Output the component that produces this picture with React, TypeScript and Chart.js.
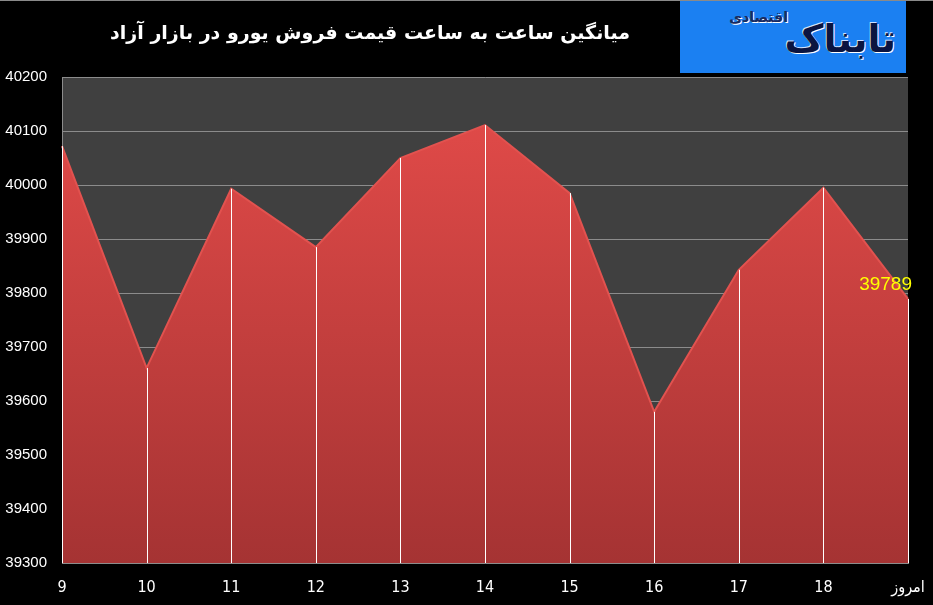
import React from "react"
import { useEffect, useRef } from "react"
import { Chart, registerables } from "chart.js"
import type { Plugin } from "chart.js"

Chart.register(...registerables);

const hours = ["9", "10", "11", "12", "13", "14", "15", "16", "17", "18", "امروز"];
const euroPrice = [40072, 39661, 39993, 39885, 40050, 40111, 39985, 39580, 39843, 39995, 39789];
const yMin = 39300;
const yMax = 40200;
const yStep = 100;

const titleText = "میانگین ساعت به ساعت قیمت فروش یورو در بازار آزاد";

// dark plot background + black canvas
const backgroundPlugin: Plugin = {
  id: "bg",
  beforeDraw(chart) {
    const { ctx, chartArea, width, height } = chart;
    ctx.save();
    ctx.fillStyle = "#000000";
    ctx.fillRect(0, 0, width, height);
    ctx.fillStyle = "#404040";
    ctx.fillRect(chartArea.left, chartArea.top, chartArea.right - chartArea.left, chartArea.bottom - chartArea.top);
    ctx.restore();
  }
};

// white drop lines from each point to the axis, and the last value label
const dropLinePlugin: Plugin = {
  id: "drops",
  afterDatasetsDraw(chart) {
    const { ctx, chartArea } = chart;
    const meta = chart.getDatasetMeta(0);
    ctx.save();
    ctx.strokeStyle = "#ffffff";
    ctx.lineWidth = 1;
    meta.data.forEach((pt: any) => {
      const x = Math.round(pt.x) + 0.5;
      ctx.beginPath();
      ctx.moveTo(x, pt.y);
      ctx.lineTo(x, chartArea.bottom);
      ctx.stroke();
    });
    const last: any = meta.data[meta.data.length - 1];
    ctx.fillStyle = "#ffff00";
    ctx.font = "19px 'Liberation Sans', Arial, sans-serif";
    ctx.textAlign = "right";
    ctx.textBaseline = "alphabetic";
    ctx.fillText(String(euroPrice[euroPrice.length - 1]), last.x + 4, last.y - 9);
    ctx.restore();
  }
};

function EuroChart() {
  const canvasRef = useRef<HTMLCanvasElement>(null);
  const chartRef = useRef<Chart | null>(null);

  useEffect(() => {
    if (!canvasRef.current) return;
    const ctx = canvasRef.current.getContext("2d");
    if (!ctx) return;

    chartRef.current = new Chart(ctx, {
      type: "line",
      data: {
        labels: hours,
        datasets: [{
          data: euroPrice,
          fill: "start",
          tension: 0,
          pointRadius: 0,
          borderColor: "#e2524f",
          borderWidth: 2,
          backgroundColor: (c: any) => {
            const area = c.chart.chartArea;
            if (!area) return "#c84040";
            const g = c.chart.ctx.createLinearGradient(0, area.top + 40, 0, area.bottom);
            g.addColorStop(0, "#e04a48");
            g.addColorStop(1, "#a53333");
            return g;
          }
        }]
      },
      options: {
        animation: false,
        responsive: false,
        layout: { padding: { left: 0, right: 25, top: 77, bottom: 0 } },
        plugins: {
          legend: { display: false },
          tooltip: { enabled: false },
          title: { display: false }
        },
        scales: {
          x: {
            offset: false,
            grid: { display: false, drawTicks: false },
            border: { display: true, color: "#8c8c8c" },
            ticks: {
              color: "#ffffff",
              padding: 15,
              maxRotation: 0,
              autoSkip: false,
              font: { family: "'Liberation Sans Narrow', 'DejaVu Sans Condensed', sans-serif", size: 16 }
            },
            afterFit: (s: any) => { s.height = 42; s.paddingLeft = 0; s.paddingRight = 0; }
          },
          y: {
            min: yMin,
            max: yMax,
            grid: { color: "#8c8c8c", drawTicks: false },
            border: { display: true, color: "#8c8c8c" },
            ticks: {
              stepSize: yStep,
              color: "#ffffff",
              padding: 15,
              callback: (v: any) => String(v),
              font: { family: "'Liberation Sans', Arial, sans-serif", size: 15 }
            },
            afterFit: (s: any) => { s.width = 62; s.paddingTop = 0; s.paddingBottom = 0; }
          }
        }
      },
      plugins: [backgroundPlugin, dropLinePlugin]
    });

    return () => {
      if (chartRef.current) {
        chartRef.current.destroy();
        chartRef.current = null;
      }
    };
  }, []);

  return <canvas ref={canvasRef} width={933} height={605} />;
}

export default function App() {
  return (
    <div style={{ position: "fixed", left: 0, top: 0, width: 933, height: 605, background: "#000" }}>
      <EuroChart />
      <div style={{ position: "absolute", left: 0, top: 0, width: 933, height: 1, background: "#8a8a8a" }} />
      <div style={{
        position: "absolute", left: 100, top: 21, width: 540, textAlign: "center", direction: "rtl",
        color: "#ffffff", fontFamily: "'DejaVu Sans', sans-serif", fontWeight: "bold", fontSize: 19
      }}>{titleText}</div>
      <div style={{
        position: "absolute", left: 680, top: 1, width: 226, height: 72, background: "#1b80f2",
        direction: "rtl", overflow: "hidden"
      }}>
        <div style={{
          position: "absolute", right: 10, top: 16, fontFamily: "'DejaVu Sans', sans-serif", fontWeight: "bold",
          fontSize: 38, color: "#0b1440", textShadow: "1px 1px 0 #fff, -1px -1px 0 #cfe0ff"
        }}>تابناک</div>
        <div style={{
          position: "absolute", right: 118, top: 8, fontFamily: "'DejaVu Sans', sans-serif", fontWeight: "bold",
          fontSize: 14, color: "#1a2a60", textShadow: "1px 1px 0 #fff"
        }}>اقتصادی</div>
      </div>
    </div>
  );
}
